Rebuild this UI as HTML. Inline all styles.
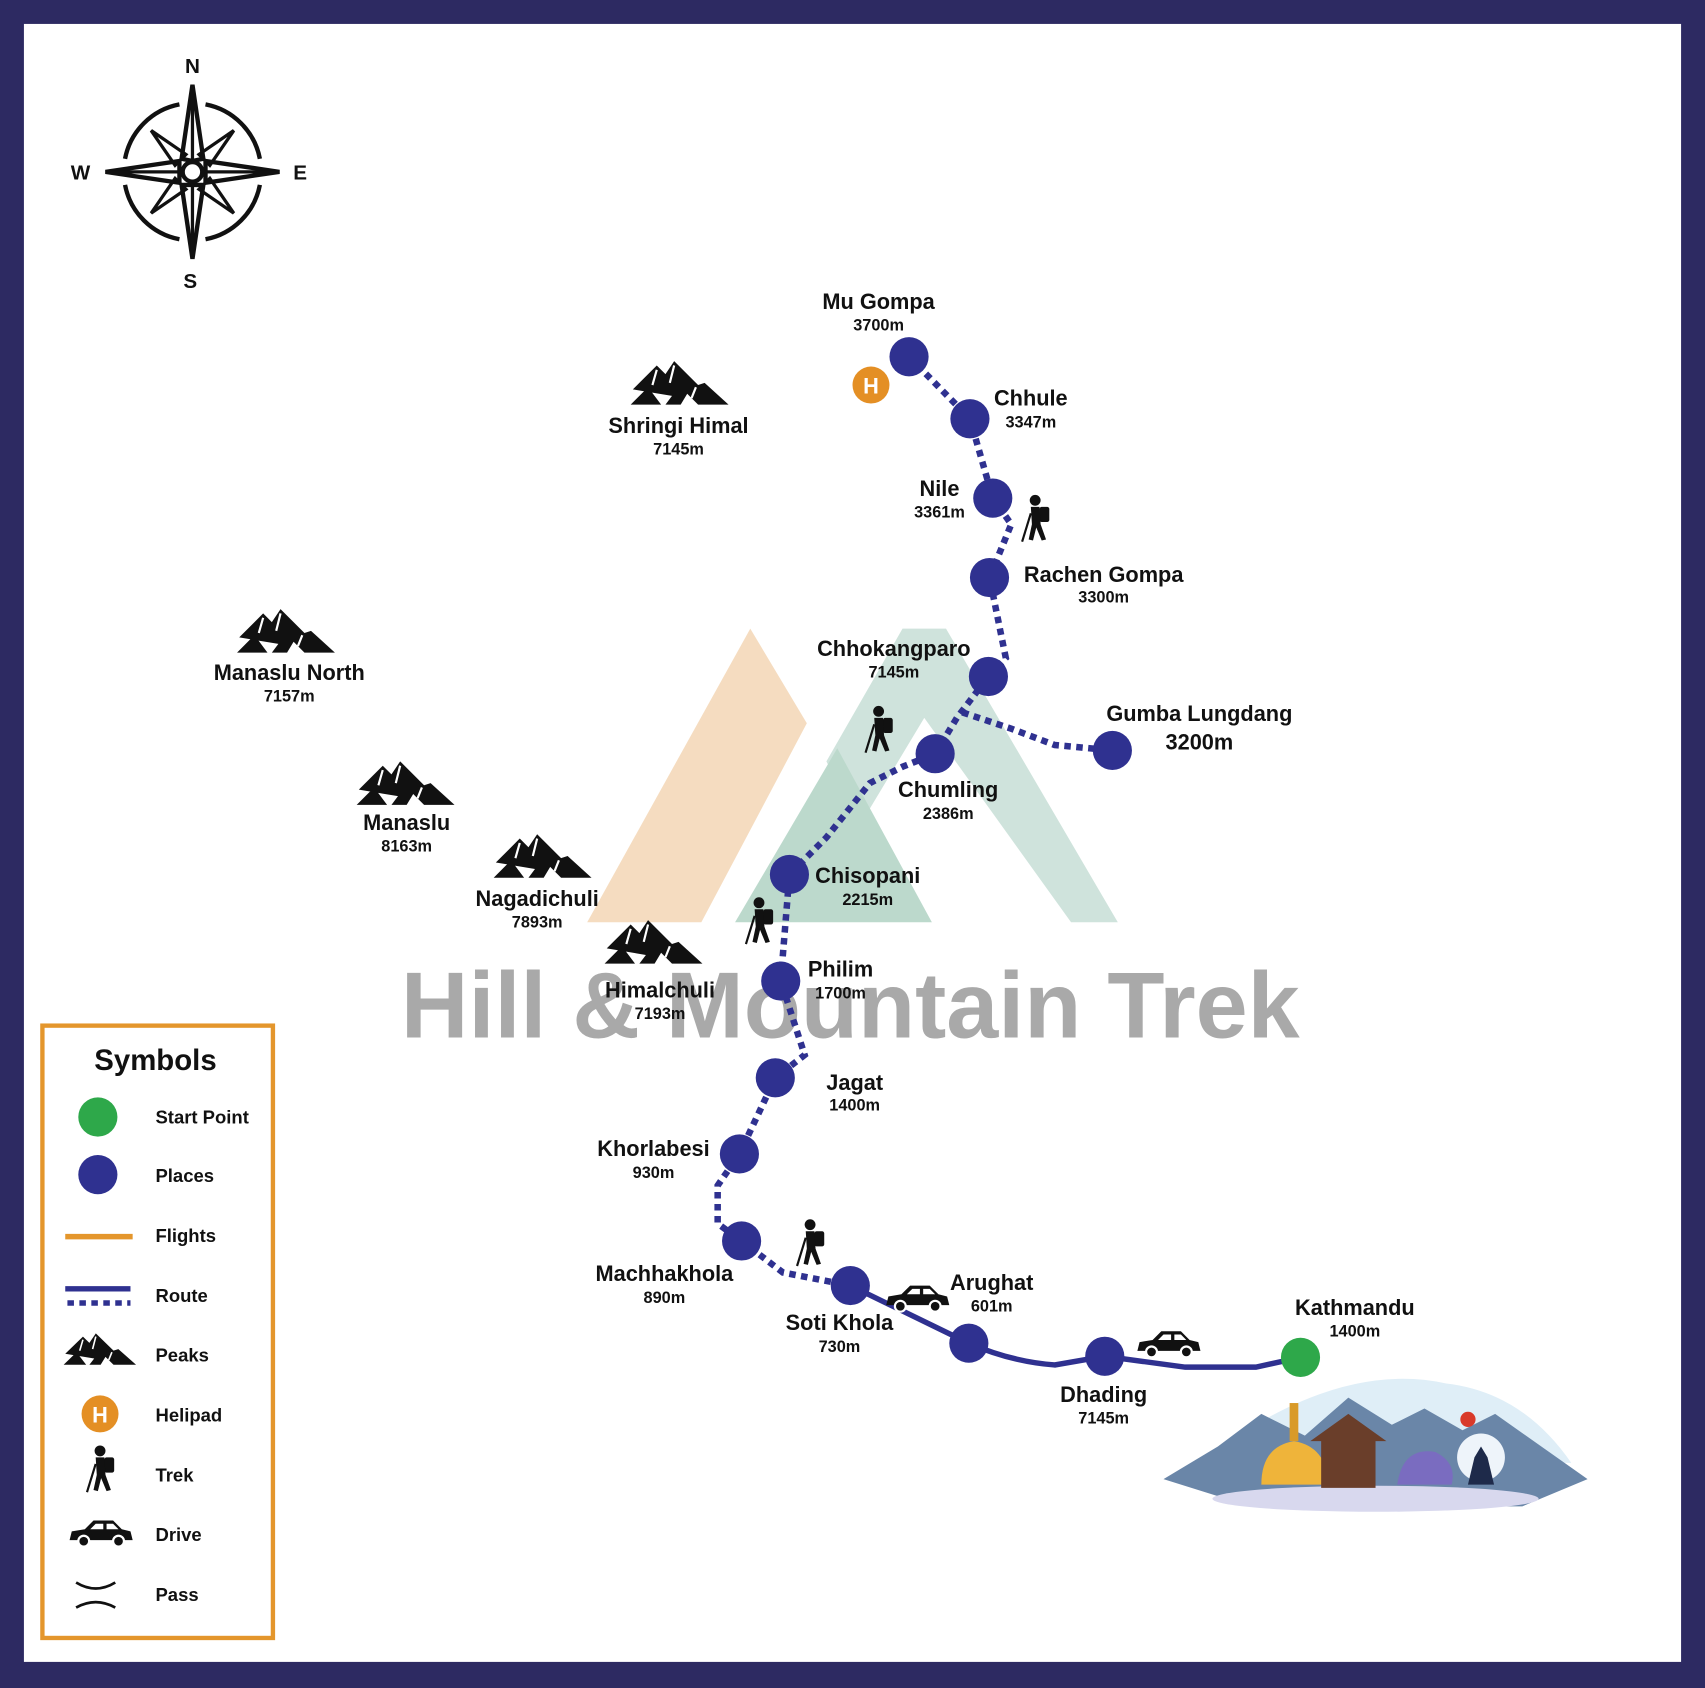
<!DOCTYPE html>
<html><head><meta charset="utf-8"><style>
html,body{margin:0;padding:0;background:#fff}
svg{display:block}
text{font-family:"Liberation Sans",sans-serif;font-weight:bold;fill:#111}
</style></head><body>
<svg width="1705" height="1688" viewBox="0 0 1568 1552" preserveAspectRatio="none" xmlns="http://www.w3.org/2000/svg">
<defs>
<g id="mt"><path d="M0,26 L22,4 L30,12 L38,0 L60,22 L66,20 L88,40 L60,40 L50,30 L44,40 L30,40 L36,32 Z M-2,40 L14,24 L26,40 Z" fill="#111"/><path d="M22,8 L18,22 M38,4 L34,20 M58,24 L54,34" stroke="#fff" stroke-width="2"/></g>
<g id="hk"><circle cx="8" cy="-22" r="5" fill="#111"/><rect x="12" y="-16" width="9" height="14" rx="2" fill="#111"/><path d="M4,-16 L12,-16 L13,0 L18,14 L14,15 L9,3 L6,15 L2,14 L5,0 Z" fill="#111"/><path d="M4,-10 L-4,16" stroke="#111" stroke-width="2"/></g>
<g id="car"><path d="M0,14 L2,6 L14,4 L22,-4 L40,-4 L48,4 L56,6 L58,14 Z" fill="#111"/><path d="M24,-1 L31,-1 L31,4 L19,4 Z M34,-1 L40,-1 L45,4 L34,4 Z" fill="#fff"/><circle cx="13" cy="15" r="5" fill="#111" stroke="#fff" stroke-width="2"/><circle cx="45" cy="15" r="5" fill="#111" stroke="#fff" stroke-width="2"/></g>
</defs>
<rect x="0" y="0" width="1568" height="1552" fill="#2d2a62"/>
<rect x="22" y="22" width="1524" height="1506" fill="#fff"/>

<polygon points="540,848 690,578 742,665 645,848" fill="#f5dcc0"/>
<polygon points="760,700 830,578 870,578 1028,848 985,848 850,660 790,760" fill="#cfe3dc"/>
<polygon points="676,848 770,688 857,848" fill="#bcd9cc"/>
<text x="782" y="954" font-size="86" text-anchor="middle" style="fill:#a9a9a9">Hill &amp; Mountain Trek</text>

<g transform="translate(177,158)" stroke="#111" fill="none" stroke-width="4">
<path d="M-12,-62 A63,63 0 0 0 -62,-12 M12,-62 A63,63 0 0 1 62,-12 M-12,62 A63,63 0 0 1 -62,12 M12,62 A63,63 0 0 0 62,12"/>
<path d="M0,-80 L10,-12 L0,-10 L-10,-12 Z M0,80 L10,12 L-10,12 Z M-80,0 L-12,-10 L-12,10 Z M80,0 L12,-10 L12,10 Z" fill="#fff" stroke-width="4"/>
<path d="M0,-80 V80 M-80,0 H80" stroke-width="3"/>
<path d="M-38,-38 L-6,-16 L-16,-6 Z M38,-38 L6,-16 L16,-6 Z M-38,38 L-6,16 L-16,6 Z M38,38 L6,16 L16,6 Z" stroke-width="3"/>
<circle r="9" fill="#fff"/>
</g>
<text x="177" y="67" font-size="19" text-anchor="middle">N</text>
<text x="175" y="265" font-size="19" text-anchor="middle">S</text>
<text x="74" y="165" font-size="19" text-anchor="middle">W</text>
<text x="276" y="165" font-size="19" text-anchor="middle">E</text>

<use href="#mt" x="582" y="332"/><text x="624" y="398" font-size="20" text-anchor="middle">Shringi Himal</text><text x="624" y="418" font-size="15" text-anchor="middle">7145m</text>
<use href="#mt" x="220" y="560"/><text x="266" y="625" font-size="20" text-anchor="middle">Manaslu North</text><text x="266" y="645" font-size="15" text-anchor="middle">7157m</text>
<use href="#mt" x="330" y="700"/><text x="374" y="763" font-size="20" text-anchor="middle">Manaslu</text><text x="374" y="783" font-size="15" text-anchor="middle">8163m</text>
<use href="#mt" x="456" y="767"/><text x="494" y="833" font-size="20" text-anchor="middle">Nagadichuli</text><text x="494" y="853" font-size="15" text-anchor="middle">7893m</text>
<use href="#mt" x="558" y="846"/><text x="607" y="917" font-size="20" text-anchor="middle">Himalchuli</text><text x="607" y="937" font-size="15" text-anchor="middle">7193m</text>

<g stroke="#2f3190" stroke-width="6" fill="none" stroke-dasharray="6,5">
<path d="M836,328 L892,385 L913,458 L930,482 L910,531 L925,605 L909,622 L880,660 L860,693 L830,705 L800,720 L760,770 L726,804 L718,902 L740,970 L713,991 L680,1061 L660,1090 L660,1125 L682,1141 L720,1170 L782,1182"/>
<path d="M885,655 L930,670 L970,685 L1023,690"/>
</g>
<path d="M782,1182 L891,1235 Q930,1252 970,1255 L1016,1247 L1090,1257 L1155,1257 L1196,1248" stroke="#2f3190" stroke-width="5" fill="none"/>

<g fill="#2f3190">
<circle cx="836" cy="328" r="18"/><circle cx="892" cy="385" r="18"/><circle cx="913" cy="458" r="18"/><circle cx="910" cy="531" r="18"/><circle cx="909" cy="622" r="18"/><circle cx="1023" cy="690" r="18"/><circle cx="860" cy="693" r="18"/><circle cx="726" cy="804" r="18"/><circle cx="718" cy="902" r="18"/><circle cx="713" cy="991" r="18"/><circle cx="680" cy="1061" r="18"/><circle cx="682" cy="1141" r="18"/><circle cx="782" cy="1182" r="18"/><circle cx="891" cy="1235" r="18"/><circle cx="1016" cy="1247" r="18"/>
</g>
<circle cx="1196" cy="1248" r="18" fill="#2ea84a"/>
<circle cx="801" cy="354" r="17" fill="#e48f24"/><text x="801" y="362" font-size="20" text-anchor="middle" style="fill:#fff">H</text>

<use href="#hk" x="944" y="482"/><use href="#hk" x="800" y="676"/><use href="#hk" x="690" y="852"/><use href="#hk" x="737" y="1148"/>
<use href="#car" x="815" y="1186"/><use href="#car" x="1046" y="1228"/>

<g font-size="20">
<text x="808" y="284" text-anchor="middle">Mu Gompa</text>
<text x="948" y="373" text-anchor="middle">Chhule</text>
<text x="864" y="456" text-anchor="middle">Nile</text>
<text x="1015" y="535" text-anchor="middle">Rachen Gompa</text>
<text x="822" y="603" text-anchor="middle">Chhokangparo</text>
<text x="1103" y="663" text-anchor="middle">Gumba Lungdang</text>
<text x="872" y="733" text-anchor="middle">Chumling</text>
<text x="798" y="812" text-anchor="middle">Chisopani</text>
<text x="773" y="898" text-anchor="middle">Philim</text>
<text x="786" y="1002" text-anchor="middle">Jagat</text>
<text x="601" y="1063" text-anchor="middle">Khorlabesi</text>
<text x="611" y="1178" text-anchor="middle">Machhakhola</text>
<text x="772" y="1223" text-anchor="middle">Soti Khola</text>
<text x="912" y="1186" text-anchor="middle">Arughat</text>
<text x="1015" y="1289" text-anchor="middle">Dhading</text>
<text x="1246" y="1209" text-anchor="middle">Kathmandu</text>
</g>
<g font-size="15">
<text x="808" y="304" text-anchor="middle">3700m</text>
<text x="948" y="393" text-anchor="middle">3347m</text>
<text x="864" y="476" text-anchor="middle">3361m</text>
<text x="1015" y="554" text-anchor="middle">3300m</text>
<text x="822" y="623" text-anchor="middle">7145m</text>
<text x="1103" y="689" font-size="20" text-anchor="middle">3200m</text>
<text x="872" y="753" text-anchor="middle">2386m</text>
<text x="798" y="832" text-anchor="middle">2215m</text>
<text x="773" y="918" text-anchor="middle">1700m</text>
<text x="786" y="1021" text-anchor="middle">1400m</text>
<text x="601" y="1083" text-anchor="middle">930m</text>
<text x="611" y="1198" text-anchor="middle">890m</text>
<text x="772" y="1243" text-anchor="middle">730m</text>
<text x="912" y="1206" text-anchor="middle">601m</text>
<text x="1015" y="1309" text-anchor="middle">7145m</text>
<text x="1246" y="1229" text-anchor="middle">1400m</text>
</g>

<path d="M1110,1340 Q1230,1250 1330,1272 Q1400,1280 1445,1345 Z" fill="#dfeef7"/>
<path d="M1070,1360 L1120,1330 L1160,1300 L1200,1320 L1240,1285 L1280,1310 L1310,1295 L1345,1315 L1375,1300 L1460,1360 L1400,1385 L1150,1385 Z" fill="#6a86a8"/>
<ellipse cx="1265" cy="1378" rx="150" ry="12" fill="#d8d8ee"/>
<path d="M1160,1365 Q1160,1330 1190,1325 Q1220,1330 1222,1365 Z" fill="#efb43a"/>
<rect x="1186" y="1290" width="8" height="35" fill="#d99a28"/>
<path d="M1205,1325 L1240,1300 L1275,1325 Z M1215,1325 H1265 V1368 H1215 Z" fill="#6a3e2a"/>
<path d="M1285,1365 Q1290,1330 1320,1335 Q1340,1345 1335,1365 Z" fill="#7a6cc0"/>
<circle cx="1362" cy="1340" r="22" fill="#eef4fa"/>
<path d="M1350,1365 L1356,1340 L1362,1330 L1368,1340 L1374,1365 Z" fill="#1e2a4a"/>
<circle cx="1350" cy="1305" r="7" fill="#d93a2a"/>

<rect x="39" y="943" width="212" height="563" fill="none" stroke="#e4962c" stroke-width="4"/>
<text x="143" y="984" font-size="27" text-anchor="middle">Symbols</text>
<circle cx="90" cy="1027" r="18" fill="#2ea84a"/>
<circle cx="90" cy="1080" r="18" fill="#2f3190"/>
<line x1="60" y1="1137" x2="122" y2="1137" stroke="#e4962c" stroke-width="5"/>
<line x1="60" y1="1185" x2="120" y2="1185" stroke="#2f3190" stroke-width="5"/>
<line x1="62" y1="1198" x2="120" y2="1198" stroke="#2f3190" stroke-width="5" stroke-dasharray="6,5"/>
<use href="#mt" transform="translate(60,1226) scale(0.74,0.72)"/>
<circle cx="92" cy="1300" r="17" fill="#e48f24"/><text x="92" y="1308" font-size="20" text-anchor="middle" style="fill:#fff">H</text>
<use href="#hk" x="84" y="1356"/>
<use href="#car" x="64" y="1402"/>
<path d="M70,1455 Q88,1466 106,1455 M70,1478 Q88,1468 106,1478" stroke="#111" stroke-width="2.5" fill="none"/>
<g font-size="17">
<text x="143" y="1033">Start Point</text>
<text x="143" y="1087">Places</text>
<text x="143" y="1142">Flights</text>
<text x="143" y="1197">Route</text>
<text x="143" y="1252">Peaks</text>
<text x="143" y="1307">Helipad</text>
<text x="143" y="1362">Trek</text>
<text x="143" y="1417">Drive</text>
<text x="143" y="1472">Pass</text>
</g>
</svg>
</body></html>
